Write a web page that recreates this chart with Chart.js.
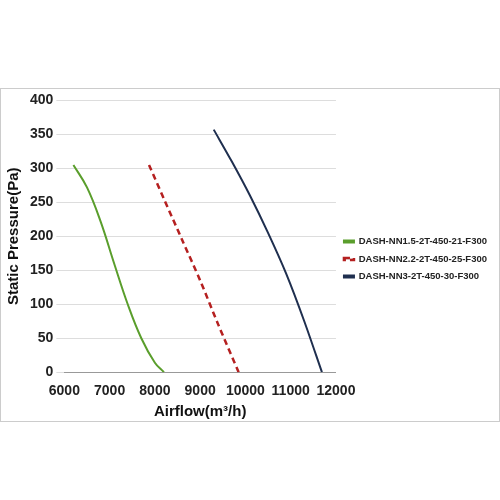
<!DOCTYPE html>
<html>
<head>
<script src="https://cdn.jsdelivr.net/npm/chart.js@4"></script>
<style>
body{margin:0;background:#fff;}
#wrap{position:absolute;left:0;top:88px;width:498px;height:332px;border:1px solid #ccc;}
</style>
</head>
<body>
<div id="wrap"><canvas id="c"></canvas></div>
<script>
const labels = ['DASH-NN1.5-2T-450-21-F300', 'DASH-NN2.2-2T-450-25-F300', 'DASH-NN3-2T-450-30-F300'];
const flow1 = [6200, 6500, 6800, 7100, 7400, 7700, 8000, 8200];
const pres1 = [305, 272, 222, 160, 100, 50, 14, 0];
const flow2 = [7870, 8200, 8600, 9000, 9400, 9850];
const pres2 = [305, 255, 195, 135, 70, 0];
const flow3 = [9300, 9700, 10100, 10500, 10900, 11300, 11690];
const pres3 = [357, 310, 260, 205, 145, 75, 0];
const xTicks = [6000, 7000, 8000, 9000, 10000, 11000, 12000];

const pts = (xs, ys) => xs.map((x, i) => ({x: x, y: ys[i]}));

new Chart(document.getElementById('c'), {
  type: 'line',
  data: {
    datasets: [
      {label: labels[0], data: pts(flow1, pres1), borderColor: '#5a9e2c', borderWidth: 2, tension: 0.4, pointRadius: 0},
      {label: labels[1], data: pts(flow2, pres2), borderColor: '#b52020', borderWidth: 2.5, borderDash: [6, 4], tension: 0.3, pointRadius: 0},
      {label: labels[2], data: pts(flow3, pres3), borderColor: '#1f2f4f', borderWidth: 2, tension: 0.3, pointRadius: 0}
    ]
  },
  options: {
    responsive: true,
    maintainAspectRatio: false,
    animation: false,
    layout: {padding: {top: 8, right: 2}},
    plugins: {
      legend: {
        position: 'right',
        maxWidth: 170,
        labels: {boxWidth: 10, boxHeight: 2, padding: 8, color: '#222', font: {size: 9.5, weight: 'bold', family: 'Liberation Sans'}}
      }
    },
    scales: {
      x: {
        type: 'linear', min: 6000, max: 12000,
        afterBuildTicks: s => { s.ticks = xTicks.map(v => ({value: v})); },
        grid: {display: false},
        border: {color: '#999'},
        ticks: {color: '#222', callback: v => String(v), font: {size: 14, weight: 'bold', family: 'Liberation Sans'}},
        title: {display: true, text: 'Airflow(m³/h)', color: '#111', padding: 0, font: {size: 15, weight: 'bold', family: 'Liberation Sans'}}
      },
      y: {
        min: 0, max: 400,
        ticks: {stepSize: 50, color: '#222', font: {size: 14, weight: 'bold', family: 'Liberation Sans'}},
        grid: {color: '#ddd'},
        border: {display: false},
        title: {display: true, text: 'Static Pressure(Pa)', color: '#111', font: {size: 15, weight: 'bold', family: 'Liberation Sans'}}
      }
    }
  }
});
</script>
</body>
</html>
